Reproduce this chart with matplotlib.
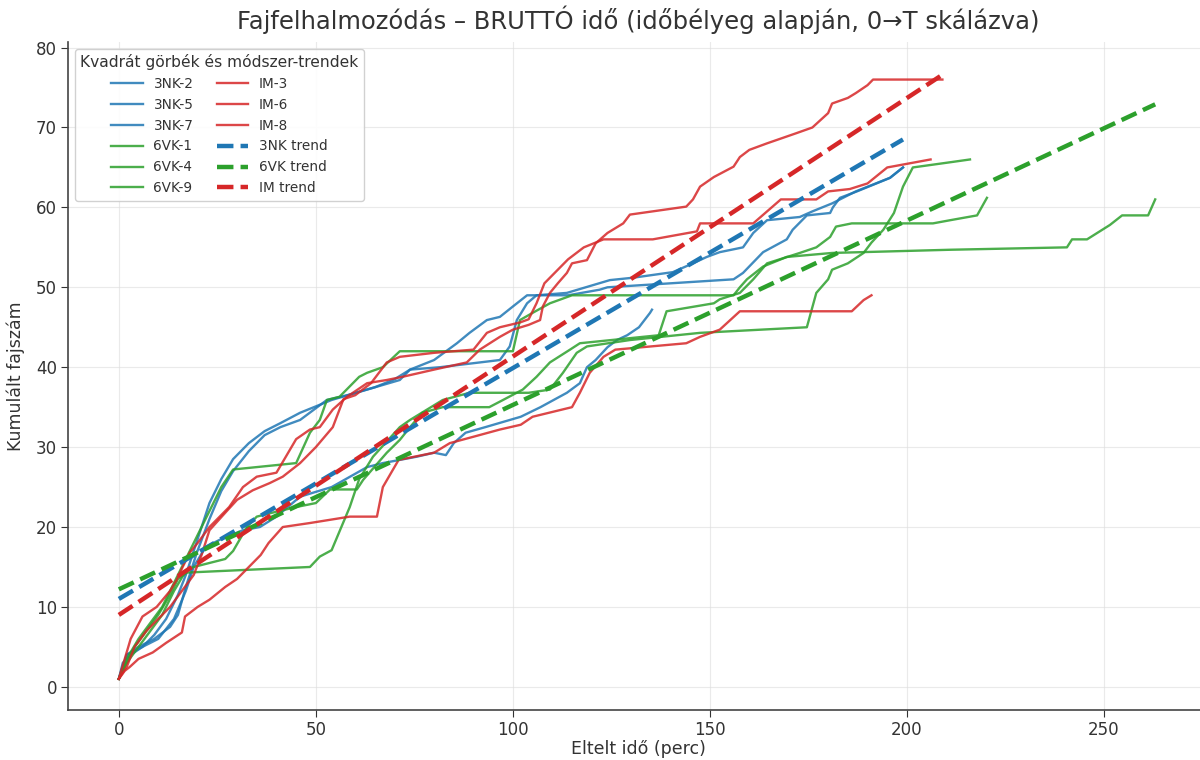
import matplotlib
matplotlib.use("Agg")
import matplotlib.pyplot as plt

# ---------------- data ----------------
nk2_x = [0, 1, 3, 6, 9, 12, 15, 17, 19, 21, 23, 26, 29, 33, 37, 41, 46, 54, 63, 71.3, 73.9, 80, 85.8, 89, 93.4, 96.7, 100, 103.6, 114, 122, 124, 156, 158.4, 163.5, 169.5, 171, 174.6, 180.5, 181.2, 183, 187.3, 195.7, 199]
nk2_y = [1, 3, 4, 5, 6.5, 8.5, 11.5, 14, 17, 20, 23, 26, 28.5, 30.5, 32, 33, 34.3, 35.9, 37.2, 38.4, 39.7, 40.9, 43, 44.3, 45.9, 46.3, 47.6, 49, 49, 49.7, 50, 51, 51.8, 54.4, 56, 57.2, 59, 59.3, 60, 61.2, 62, 63.7, 65]

nk5_x = [0, 2, 5, 9, 13, 15, 17, 19.8, 23, 26, 29, 33, 37, 41, 46, 52.8, 58, 65, 70, 73.9, 81.5, 96.7, 99.2, 101, 103.6, 106, 113.7, 124.6, 130.5, 140.6, 145.7, 149.2, 152.5, 158.4, 161, 164.5, 172.8, 176, 181, 187, 195.7, 199]
nk5_y = [1, 4, 5, 6, 7.5, 9, 12.5, 16.8, 21, 24.5, 27, 29.5, 31.5, 32.5, 33.4, 35.9, 36.5, 37.5, 38.5, 39.7, 40, 40.9, 42.6, 45.9, 48, 49, 49.3, 50.9, 51.2, 51.9, 53, 53.8, 54.4, 55, 56.8, 58.4, 58.8, 59.5, 60.5, 62, 63.7, 65]

nk7_x = [0, 2, 6, 10, 14, 17, 19, 22, 25.6, 31.5, 35.8, 40, 46, 54, 63, 67, 71.3, 75.6, 80, 83, 85, 88, 93, 102, 107, 113.7, 117, 118.8, 121, 124, 126.4, 129, 132, 134.8, 135.3]
nk7_y = [1, 4, 5, 6, 8.5, 12, 15, 17.5, 18.4, 19.6, 20, 21.3, 23.8, 25, 27.5, 28, 28.4, 28.8, 29.3, 29, 30.5, 31.8, 32.5, 33.8, 35, 36.8, 38, 40, 40.9, 42.5, 43.4, 44, 45, 46.8, 47.2]

vk1_x = [0, 2, 5, 8, 11, 14, 17, 20, 23, 26, 29, 45, 48.5, 51, 52.8, 56, 61, 63, 67, 71.3, 100, 101.8, 105, 109.4, 115, 156, 157.6, 159.4, 163.5, 169.5, 181, 211, 240.6, 241.9, 245.7, 251.5, 254.6, 261.2, 263]
vk1_y = [1, 3.5, 6, 8, 10, 13, 16, 19, 22, 25, 27.2, 28, 31.8, 33.4, 35.9, 36.3, 38.8, 39.3, 40, 42, 42, 45.9, 46.8, 48, 49, 49, 50, 51, 52.6, 53.8, 54.3, 54.7, 55, 56, 56, 57.8, 59, 59, 61]

vk4_x = [0, 2, 5, 8, 11, 14, 17, 19, 27, 29, 32.5, 35, 39, 45, 50, 53.6, 60.4, 62, 68, 71.3, 73.9, 77, 82.2, 94, 97.5, 102.5, 106, 109.4, 114.5, 117, 137, 139, 151, 152.5, 157.6, 161, 164.5, 172.8, 177, 180.5, 182, 186, 206.6, 211, 217.8, 220.3]
vk4_y = [1, 3, 5, 7, 9, 12, 14.5, 15, 16, 17, 20, 21.3, 21.8, 22.5, 23, 24.7, 24.7, 25.9, 29.3, 30.9, 32.5, 34.3, 35, 35, 35.9, 37.2, 38.8, 40.6, 42.2, 43, 44, 47, 48, 48.5, 49.3, 51, 53, 54.3, 55, 56.3, 57.6, 58, 58, 58.4, 59, 61.2]

vk9_x = [0, 2, 4, 7, 10, 13, 15, 17.3, 48.5, 51, 54, 58.6, 61, 64.5, 71.3, 73.9, 82.2, 89, 104, 109.4, 112.7, 116.2, 118.8, 129.7, 147.5, 174.6, 177, 180, 181, 185, 189, 191, 194, 196.7, 199, 201.5, 211.7, 216]
vk9_y = [1, 3, 5, 7, 9, 11.5, 13.5, 14.3, 15, 16.3, 17.1, 22.5, 26, 28.8, 32.5, 33.4, 35.9, 36.8, 36.8, 37.2, 39.3, 41.8, 42.6, 43.4, 44.3, 45, 49.3, 51, 52.2, 53, 54.3, 55.6, 57.2, 59.3, 62.6, 65, 65.7, 66]

im3_x = [0, 1.5, 3, 6, 9.6, 13, 14.7, 16.2, 18, 20, 23, 25, 28, 31.5, 35, 40, 45, 48.5, 51, 54.3, 57.9, 63, 68, 72, 80, 88.3, 91.6, 96.7, 100, 104, 106.9, 107.6, 109.4, 111.4, 113.7, 115, 118.8, 121, 124, 128, 129.7, 144, 145.7, 147.5, 151, 156, 157.6, 160, 164.4, 172, 176, 180, 181, 185, 187, 190, 191.4, 209]
im3_y = [1, 3.5, 6, 8.8, 10, 12, 13.4, 15, 16.8, 18, 20, 21, 22.5, 25, 26.3, 26.8, 31, 32.2, 32.5, 34.7, 36.3, 38, 38.4, 38.8, 39.7, 40.6, 42.2, 43.8, 44.7, 45.3, 45.9, 47.6, 49.3, 50.5, 51.8, 53, 53.4, 55.5, 56.8, 58, 59.1, 60.1, 61, 62.6, 63.8, 65.1, 66.3, 67.2, 68, 69.3, 70, 71.8, 73, 73.7, 74.3, 75.3, 76, 76]

im6_x = [0, 2, 4, 7, 10, 13, 16, 19, 21, 23, 27.4, 30, 34, 38.3, 41.6, 46, 50, 54.3, 57, 60, 64, 68, 71.3, 80, 90, 93.4, 96.7, 101.8, 104, 106, 108, 111, 114, 118, 123, 135.5, 146.7, 147.5, 161, 168, 177, 180, 185.5, 190, 195, 206]
im6_y = [1, 2.5, 5, 7, 8.5, 10, 12, 14, 16.5, 19.6, 22, 23.4, 24.6, 25.5, 26.3, 28, 30, 32.5, 36, 36.5, 38, 40.6, 41.3, 41.8, 42.2, 44.3, 45, 45.6, 46, 48, 50.5, 52, 53.5, 55, 56, 56, 57, 58, 58, 61, 61, 62, 62.3, 63, 65, 66]

im8_x = [0, 1.5, 2.8, 5, 8.6, 12, 16, 16.8, 20, 23, 27, 30, 33, 36, 38, 41.6, 48.5, 58.6, 65.5, 67, 71, 80, 84, 90, 96.7, 102, 105, 115, 117, 119.5, 123, 126, 144, 147.5, 152.5, 157.6, 186, 189, 191]
im8_y = [1, 2, 2.5, 3.5, 4.3, 5.5, 6.8, 8.8, 10, 10.9, 12.5, 13.5, 15, 16.5, 18, 20, 20.5, 21.3, 21.3, 25, 28.4, 29.3, 30.5, 31.3, 32.2, 32.8, 33.8, 35, 36.8, 39.3, 41.3, 42.2, 43, 43.8, 44.7, 47, 47, 48.4, 49]

trend_nk_x = [0, 199]
trend_nk_y = [11, 68.5]
trend_vk_x = [0, 263]
trend_vk_y = [12.2, 72.9]
trend_im_x = [0, 209]
trend_im_y = [9, 76.6]

series_names = ["3NK-2", "3NK-5", "3NK-7", "6VK-1", "6VK-4", "6VK-9", "IM-3", "IM-6", "IM-8"]
trend_names = ["3NK trend", "6VK trend", "IM trend"]

title = "Fajfelhalmozódás – BRUTTÓ idő (időbélyeg alapján, 0→T skálázva)"
xlabel = "Eltelt idő (perc)"
ylabel = "Kumulált fajszám"
legend_title = "Kvadrát görbék és módszer-trendek"

# ---------------- drawing ----------------
BLUE, GREEN, RED = "#1f77b4", "#2ca02c", "#d62728"

fig = plt.figure(figsize=(12, 7.6), dpi=100)
ax = fig.add_axes([68 / 1200, 50 / 760, 1140 / 1200, 668 / 760])

curves = [
    (nk2_x, nk2_y, BLUE), (nk5_x, nk5_y, BLUE), (nk7_x, nk7_y, BLUE),
    (vk1_x, vk1_y, GREEN), (vk4_x, vk4_y, GREEN), (vk9_x, vk9_y, GREEN),
    (im3_x, im3_y, RED), (im6_x, im6_y, RED), (im8_x, im8_y, RED),
]
for (xs, ys, c), name in zip(curves, series_names):
    ax.plot(xs, ys, color=c, lw=1.7, alpha=0.85, label=name)

trends = [(trend_nk_x, trend_nk_y, BLUE), (trend_vk_x, trend_vk_y, GREEN), (trend_im_x, trend_im_y, RED)]
for (xs, ys, c), name in zip(trends, trend_names):
    ax.plot(xs, ys, color=c, lw=3.2, ls="--", label=name)

ax.set_xlim(-12.9, 276.4)
ax.set_ylim(-2.9, 80.7)
ax.set_xticks([0, 50, 100, 150, 200, 250])
ax.set_yticks([0, 10, 20, 30, 40, 50, 60, 70, 80])
ax.tick_params(labelsize=12, colors="#333333", length=5, pad=3)
ax.grid(True, color="#dddddd", lw=0.8, alpha=0.6)
for s in ["top", "right"]:
    ax.spines[s].set_visible(False)
for s in ["left", "bottom"]:
    ax.spines[s].set_color("#444444")
    ax.spines[s].set_linewidth(1.2)

ax.set_title(title, fontsize=17.5, color="#333333", pad=9)
ax.set_xlabel(xlabel, fontsize=12.5, color="#333333", labelpad=1)
ax.set_ylabel(ylabel, fontsize=12.5, color="#333333", labelpad=8)

leg = ax.legend(loc="upper left", ncol=2, title=legend_title, fontsize=9.8,
                title_fontsize=11.2, handlelength=2.3, columnspacing=1.7,
                labelspacing=0.5, framealpha=0.9, borderaxespad=0.5)
leg.get_frame().set_edgecolor("#cccccc")
for t in leg.get_texts():
    t.set_color("#333333")
leg.get_title().set_color("#333333")

fig.savefig("out.png", dpi=100)
